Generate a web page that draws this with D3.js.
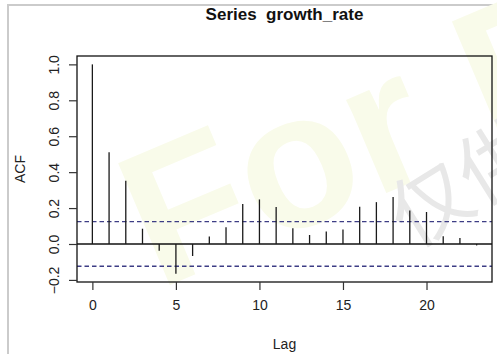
<!DOCTYPE html>
<html>
<head>
<meta charset="utf-8">
<script src="https://cdn.jsdelivr.net/npm/d3@7"></script>
<style>
  html, body { margin: 0; padding: 0; background: #fff; }
  svg { display: block; font-family: "Liberation Sans", Arial, sans-serif; }
</style>
</head>
<body>
<script>
// acf of growth_rate
var lags = d3.range(0, 24);
var acfValues = [1.0, 0.511, 0.352, 0.085, -0.037, -0.165, -0.067, 0.042, 0.093, 0.222,
                 0.248, 0.206, 0.087, 0.050, 0.069, 0.080, 0.207, 0.233, 0.262, 0.187,
                 0.178, 0.043, 0.033, -0.008];
var ciBound = 0.124;
var xTicks = [0, 5, 10, 15, 20];
var yTicks = [-0.2, 0.0, 0.2, 0.4, 0.6, 0.8, 1.0];

var W = 497, H = 354;
var box = {left: 77, right: 492, top: 56, bottom: 282};

var svg = d3.select('body').append('svg')
    .attr('width', W)
    .attr('height', H);

// screenshot frame + watermark
svg.append('path')
    .attr('d', 'M8,' + H + 'V5H' + W)
    .attr('fill', 'none')
    .attr('stroke', '#cbcbcb')
    .attr('stroke-width', 2);

svg.append('text')
    .attr('transform', 'translate(158,290) rotate(-23)')
    .attr('font-size', 192)
    .attr('font-weight', 'bold')
    .attr('fill', '#f9fbea')
    .text('For R');

svg.append('text')
    .attr('transform', 'translate(412,250) rotate(-32)')
    .attr('font-family', '"Noto Sans CJK SC", sans-serif')
    .attr('font-size', 80)
    .attr('fill', '#e8e8e8')
    .text('仅供');

// R pads the data range by 4% on each side
function pad(lo, hi) {
    var d = (hi - lo) * 0.04;
    return [lo - d, hi + d];
}
var x = d3.scaleLinear()
    .domain(pad(0, d3.max(lags)))
    .range([box.left, box.right]);
var yMin = Math.min(d3.min(acfValues), -ciBound);
var y = d3.scaleLinear()
    .domain(pad(yMin, d3.max(acfValues)))
    .range([box.bottom, box.top]);

var g = svg.append('g');

// confidence bounds
[ciBound, -ciBound].forEach(function (c) {
    g.append('line')
        .attr('x1', box.left).attr('x2', box.right)
        .attr('y1', y(c)).attr('y2', y(c))
        .attr('stroke', '#3d3d85')
        .attr('stroke-width', 1.3)
        .attr('stroke-dasharray', '4.5,3');
});

// zero line
g.append('line')
    .attr('x1', box.left).attr('x2', box.right)
    .attr('y1', y(0)).attr('y2', y(0))
    .attr('stroke', '#111')
    .attr('stroke-width', 1.3);

// spikes
g.selectAll('line.spike')
    .data(acfValues)
    .enter().append('line')
    .attr('class', 'spike')
    .attr('x1', function (d, i) { return x(lags[i]); })
    .attr('x2', function (d, i) { return x(lags[i]); })
    .attr('y1', y(0))
    .attr('y2', function (d) { return y(d); })
    .attr('stroke', '#1a1a1a')
    .attr('stroke-width', 1.3);

// box
g.append('rect')
    .attr('x', box.left).attr('y', box.top)
    .attr('width', box.right - box.left)
    .attr('height', box.bottom - box.top)
    .attr('fill', 'none')
    .attr('stroke', '#111')
    .attr('stroke-width', 1.3);

// axes
var xAxis = d3.axisBottom(x).tickValues(xTicks).tickSize(8).tickPadding(10)
    .tickFormat(d3.format('d'));
var gx = svg.append('g')
    .attr('transform', 'translate(0,' + box.bottom + ')')
    .call(xAxis);
gx.select('.domain').remove();
gx.selectAll('line').attr('stroke', '#333').attr('stroke-width', 1.2);
gx.selectAll('text').attr('font-size', 14).attr('fill', '#222')
    .attr('font-family', '"Liberation Sans", Arial, sans-serif');

var yAxis = d3.axisLeft(y).tickValues(yTicks).tickSize(8)
    .tickFormat(d3.format('.1f'));
var gy = svg.append('g')
    .attr('transform', 'translate(' + box.left + ',0)')
    .call(yAxis);
gy.select('.domain').remove();
gy.selectAll('line').attr('stroke', '#333').attr('stroke-width', 1.2);
gy.selectAll('text')
    .attr('font-size', 14).attr('fill', '#222')
    .attr('font-family', '"Liberation Sans", Arial, sans-serif')
    .attr('x', null).attr('dy', null)
    .attr('text-anchor', 'middle')
    .attr('transform', 'translate(-18,0) rotate(-90)');

// titles
svg.append('text')
    .attr('x', (box.left + box.right) / 2)
    .attr('y', 20)
    .attr('text-anchor', 'middle')
    .attr('font-size', 17)
    .attr('font-weight', 'bold')
    .attr('fill', '#111')
    .attr('xml:space', 'preserve')
    .style('white-space', 'pre')
    .text('Series  growth_rate');

svg.append('text')
    .attr('x', (box.left + box.right) / 2)
    .attr('y', 349)
    .attr('text-anchor', 'middle')
    .attr('font-size', 14)
    .attr('fill', '#222')
    .text('Lag');

svg.append('text')
    .attr('transform', 'translate(25,' + (box.top + box.bottom) / 2 + ') rotate(-90)')
    .attr('text-anchor', 'middle')
    .attr('font-size', 14)
    .attr('fill', '#222')
    .text('ACF');
</script>
</body>
</html>
